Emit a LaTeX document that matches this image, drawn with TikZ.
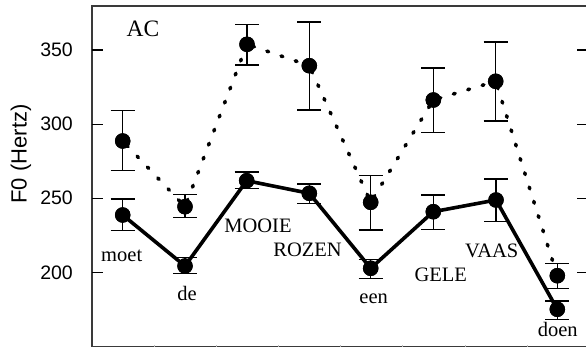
\documentclass[tikz,border=0pt]{standalone}
\usepackage{fontspec}
\setmainfont{Liberation Serif}
\newfontfamily\axisfont{Liberation Sans}
\usepackage{xcolor}
\usepackage{tikz}
\definecolor{ink}{HTML}{000000}
\definecolor{frm}{HTML}{3A3A3A}
\tikzset{
  frame/.style={draw=frm, line width=1.3pt},
  tick/.style={draw=ink, line width=1.2pt},
  xtick/.style={draw=frm!35, line width=0.5pt},
  ebar/.style={draw=ink, line width=1.2pt},
  solidline/.style={draw=ink, line width=3.6pt, line join=round},
  dotline/.style={draw=ink, line width=3.6pt, line cap=round, dash pattern=on 1.8pt off 13.2pt, dash phase=-6pt},
  dot/.style={circle, fill=ink, inner sep=0pt, minimum size=15.5pt},
  word/.style={text=ink, font=\fontsize{20.5}{24}\selectfont, inner sep=0pt, anchor=base},
  numlbl/.style={text=ink, font=\axisfont\fontsize{19.5}{22}\selectfont, inner sep=0pt, anchor=east}
}

\begin{document}
\begin{tikzpicture}[x=1pt, y=-1pt]
  \useasboundingbox (0,0) rectangle (586,348);
  \def\ebar#1#2#3{\draw[ebar] (#1,#2) -- (#1,#3) (#1-12,#2) -- (#1+12,#2) (#1-12,#3) -- (#1+12,#3);}

  % axes box (right side runs off the page)
  \draw[frame] (92,6) rectangle (588,346.5);

  % y ticks and numbers
  \draw[tick] (92,272.3) -- (103,272.3) (577,272.3) -- (588,272.3);
  \draw[tick] (92,198.2) -- (103,198.2) (577,198.2) -- (588,198.2);
  \draw[tick] (92,124.1) -- (103,124.1) (577,124.1) -- (588,124.1);
  \draw[tick] (92,50)    -- (103,50)    (577,50)    -- (588,50);
  \node[numlbl] (n200) at (73,272.3) {200};
  \node[numlbl] (n250) at (73,198.2) {250};
  \node[numlbl] (n300) at (73,124.1) {300};
  \node[numlbl] (n350) at (73,50)    {350};

  % faint x ticks between words
  \draw[xtick] (154,346.5) -- (154,344.5) (216,346.5) -- (216,344.5) (278,346.5) -- (278,344.5)
               (340,346.5) -- (340,344.5) (402,346.5) -- (402,344.5) (465,346.5) -- (465,344.5)
               (527,346.5) -- (527,344.5);

  \node[rotate=90, font=\axisfont\fontsize{22}{26}\selectfont, inner sep=0pt] (ylab) at (21,154) {F0 (Hertz)};
  \node[word, font=\fontsize{23.5}{28}\selectfont] (cond) at (143,36.7) {AC};

  % error bars, upper (dotted) series
  \ebar{122.7}{110.3}{170.7}
  \ebar{185}{194.3}{217.7}
  \ebar{247}{24.7}{65}
  \ebar{309.3}{22}{110}
  \ebar{370.7}{175.7}{230}
  \ebar{433.3}{68}{132.7}
  \ebar{495.7}{42}{121}
  \ebar{557.3}{263.3}{288.3}
  % error bars, lower (solid) series
  \ebar{122.7}{199}{230.7}
  \ebar{185}{257.3}{273.3}
  \ebar{246.7}{172}{188.3}
  \ebar{309.3}{184}{203.3}
  \ebar{370.7}{259.3}{278.3}
  \ebar{433.3}{195}{229.3}
  \ebar{496}{179}{221.7}
  \ebar{557.3}{301}{319.3}

  % upper series points
  \node[dot] (u1) at (122.7,141) {};
  \node[dot] (u2) at (185,206.7) {};
  \node[dot] (u3) at (247,44.3) {};
  \node[dot] (u4) at (309.3,65.7) {};
  \node[dot] (u5) at (370.7,202.3) {};
  \node[dot] (u6) at (433.3,100) {};
  \node[dot] (u7) at (495.7,81.3) {};
  \node[dot] (u8) at (557.3,275.7) {};

  % lower series points
  \node[dot] (l1) at (122.7,215) {};
  \node[dot] (l2) at (185,266) {};
  \node[dot] (l3) at (246.7,180.7) {};
  \node[dot] (l4) at (309.3,193.3) {};
  \node[dot] (l5) at (370.7,268.3) {};
  \node[dot] (l6) at (433.3,211.7) {};
  \node[dot] (l7) at (496,200) {};
  \node[dot] (l8) at (557.3,309.3) {};

  \draw[dotline] (u1.center) -- (u2.center);
  \draw[dotline] (u2.center) -- (u3.center);
  \draw[dotline] (u3.center) -- (u4.center);
  \draw[dotline] (u4.center) -- (u5.center);
  \draw[dotline] (u5.center) -- (u6.center);
  \draw[dotline] (u6.center) -- (u7.center);
  \draw[dotline] (u7.center) -- (u8.center);
  \draw[solidline] (l1.center) -- (l2.center) -- (l3.center) -- (l4.center)
                   -- (l5.center) -- (l6.center) -- (l7.center) -- (l8.center);

  % redraw dots on top of the lines
  \foreach \p in {u1,u2,u3,u4,u5,u6,u7,u8,l1,l2,l3,l4,l5,l6,l7,l8}
    \fill[ink] (\p.center) circle (7.75pt);

  % words
  \node[word] (wmoet)  at (121.7,261.7) {moet};
  \node[word] (wde)    at (187,300)     {de};
  \node[word] (wmooie) at (258,232.7)   {MOOIE};
  \node[word] (wrozen) at (307.5,256.7) {ROZEN};
  \node[word] (ween)   at (373.7,303.3) {een};
  \node[word] (wgele)  at (440.7,281.7) {GELE};
  \node[word] (wvaas)  at (491.7,257.3) {VAAS};
  \node[word] (wdoen)  at (557.8,336.7) {doen};
\end{tikzpicture}
\end{document}
